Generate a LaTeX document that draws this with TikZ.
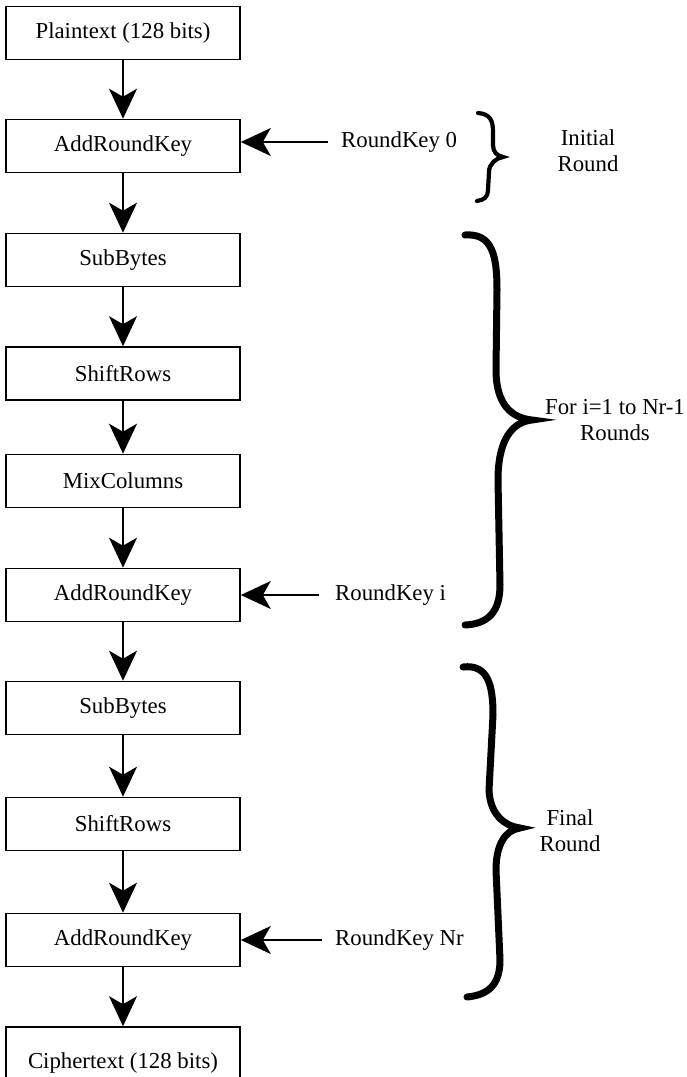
\documentclass[tikz,border=0pt]{standalone}
\usepackage{fontspec}
\setmainfont{Liberation Serif}
\usetikzlibrary{arrows.meta}
\usetikzlibrary{positioning}

\begin{document}
\begin{tikzpicture}[x=1pt,y=-1pt,stage/.style={rectangle, draw, line width=1.6pt, minimum width=234pt, minimum height=53pt, inner sep=0pt}]
    \tikzset{flow/.style={line width=1.8pt, -{Stealth[length=30pt, width=28pt, inset=8pt]}}}
    \tikzset{keylabel/.style={anchor=west, inner sep=0pt}}
    \tikzset{bigbrace/.style={line width=7pt, line cap=round}}
    \fontsize{22.8}{26}\selectfont
    \useasboundingbox (0,0) rectangle (687,1077);
    \def \cx {123}
    \node[stage] (pt) at (\cx,33) {Plaintext (128 bits)};
    \foreach \nm/\txt/\y in {ark0/AddRoundKey/146, sb1/SubBytes/260, sr1/ShiftRows/373.5, mc1/MixColumns/481, ark1/AddRoundKey/595, sb2/SubBytes/708, sr2/ShiftRows/824, ark2/AddRoundKey/940} {
        \node[stage] (\nm) at (\cx,\y) {\txt};
    }
    \node[stage, minimum height=72pt] (ct) at (\cx,1063) {Ciphertext (128 bits)};
    % main flow
    \foreach \a/\b in {pt/ark0, ark0/sb1, sb1/sr1, sr1/mc1, mc1/ark1, ark1/sb2, sb2/sr2, sr2/ark2, ark2/ct} {
        \draw[flow] (\a.south) -- (\b.north);
    }
    % round keys
    \node[keylabel] (rk0) at (341,142) {RoundKey 0};
    \node[keylabel] (rki) at (335,595) {RoundKey i};
    \node[keylabel] (rknr) at (335,940) {RoundKey Nr};
    \draw[flow, shorten <=13pt] (rk0.west) -- (rk0.west -| ark0.east);
    \draw[flow, shorten <=16pt] (rki.west) -- (ark1.east);
    \draw[flow, shorten <=13pt] (rknr.west) -- (ark2.east);
    % braces
    \draw[line width=4.2pt, line cap=round] (478,113) .. controls (490,114) and (493,120) .. (493,132) -- (493,145) .. controls (493,152) and (497,156) .. (503,157) .. controls (496,158) and (489,164) .. (489,172) -- (488,190) .. controls (488,197) and (484,200) .. (477,201);
    \draw[bigbrace] (465,235) .. controls (492,233) and (497,255) .. (497,290) -- (496,370) .. controls (496,405) and (512,418) .. (532,420) .. controls (512,422) and (498,440) .. (498,480) -- (500,585) .. controls (500,612) and (488,624) .. (465,625);
    \draw[bigbrace] (463,667) .. controls (488,664) and (493,685) .. (493,715) -- (489,790) .. controls (490,815) and (505,826) .. (520,828) .. controls (505,830) and (496,845) .. (496,870) -- (500,960) .. controls (500,985) and (488,995) .. (467,997);
    \node[align=center] (init) at (588,151) {Initial\\Round};
    \node[align=center] (loop) at (615,420) {For i=1 to Nr-1\\Rounds};
    \node[align=center] (fin) at (570,831) {Final\\Round};
\end{tikzpicture}
\end{document}
